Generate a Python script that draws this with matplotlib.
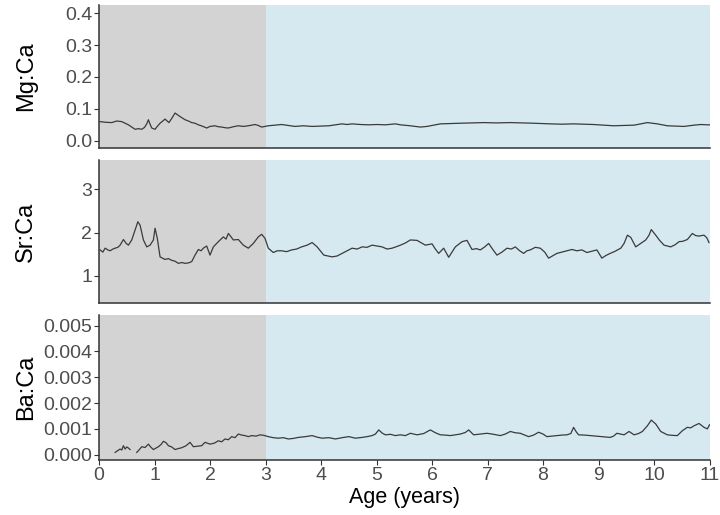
import numpy as np
import matplotlib
matplotlib.use("Agg")
import matplotlib.pyplot as plt

plt.rcParams['font.family'] = ['Liberation Sans', 'DejaVu Sans']

# ---- data ----
zone_edges = [0, 3, 11]
zone_colors = ['#d3d3d3', '#d6e9f0']

mg_age = [0.02, 0.12, 0.23, 0.32, 0.41, 0.47, 0.53, 0.59, 0.65, 0.71, 0.77, 0.82, 0.86, 0.89, 0.92, 0.95,
          1.01, 1.05, 1.10, 1.15, 1.19, 1.26, 1.31, 1.37, 1.41, 1.46, 1.55, 1.61, 1.67, 1.73, 1.79, 1.86,
          1.94, 2.00, 2.09, 2.15, 2.21, 2.27, 2.33, 2.42, 2.51, 2.60, 2.69, 2.75, 2.81, 2.87, 2.93, 3.05,
          3.17, 3.29, 3.41, 3.53, 3.68, 3.84, 3.99, 4.14, 4.26, 4.38, 4.47, 4.56, 4.71, 4.86, 5.01, 5.16,
          5.34, 5.43, 5.61, 5.79, 5.91, 6.03, 6.15, 6.33, 6.51, 6.72, 6.93, 7.17, 7.41, 7.62, 7.83, 7.98,
          8.13, 8.34, 8.55, 8.73, 8.91, 9.09, 9.27, 9.45, 9.64, 9.76, 9.88, 9.97, 10.06, 10.15, 10.24,
          10.39, 10.54, 10.63, 10.72, 10.84, 10.96, 11.0]
mg_val = [0.060, 0.058, 0.057, 0.062, 0.060, 0.055, 0.050, 0.043, 0.036, 0.038, 0.036, 0.042, 0.053, 0.066, 0.052, 0.040,
          0.036, 0.045, 0.055, 0.062, 0.068, 0.057, 0.070, 0.087, 0.082, 0.076, 0.066, 0.062, 0.057, 0.055, 0.050, 0.046,
          0.040, 0.045, 0.047, 0.044, 0.043, 0.041, 0.040, 0.044, 0.047, 0.045, 0.047, 0.049, 0.051, 0.048, 0.043, 0.047,
          0.049, 0.051, 0.048, 0.045, 0.047, 0.045, 0.046, 0.047, 0.050, 0.053, 0.051, 0.053, 0.051, 0.050, 0.051, 0.050,
          0.053, 0.050, 0.047, 0.043, 0.045, 0.049, 0.053, 0.054, 0.055, 0.056, 0.057, 0.056, 0.057, 0.056, 0.055, 0.054,
          0.053, 0.052, 0.053, 0.052, 0.051, 0.049, 0.047, 0.048, 0.049, 0.053, 0.057, 0.055, 0.053, 0.050, 0.047,
          0.046, 0.045, 0.047, 0.049, 0.051, 0.050, 0.050]

sr_age = [0.02, 0.07, 0.11, 0.16, 0.20, 0.25, 0.29, 0.34, 0.38, 0.44, 0.49, 0.53, 0.59, 0.65, 0.70, 0.74,
          0.80, 0.86, 0.92, 0.98, 1.01, 1.05, 1.10, 1.19, 1.25, 1.31, 1.37, 1.43, 1.49, 1.55, 1.61, 1.67,
          1.73, 1.79, 1.84, 1.88, 1.94, 2.00, 2.06, 2.15, 2.24, 2.29, 2.33, 2.38, 2.42, 2.51, 2.60, 2.69,
          2.78, 2.87, 2.93, 2.99, 3.05, 3.14, 3.21, 3.29, 3.38, 3.47, 3.56, 3.65, 3.75, 3.84, 3.93, 4.05,
          4.20, 4.29, 4.38, 4.47, 4.56, 4.65, 4.74, 4.83, 4.92, 5.01, 5.10, 5.19, 5.28, 5.37, 5.43, 5.52,
          5.61, 5.73, 5.81, 5.88, 6.00, 6.06, 6.12, 6.21, 6.30, 6.42, 6.54, 6.63, 6.72, 6.80, 6.87, 6.95,
          7.02, 7.10, 7.17, 7.26, 7.35, 7.43, 7.50, 7.58, 7.65, 7.71, 7.77, 7.86, 7.95, 8.03, 8.10, 8.18,
          8.25, 8.34, 8.43, 8.52, 8.61, 8.70, 8.79, 8.88, 8.97, 9.06, 9.13, 9.21, 9.30, 9.40, 9.46, 9.52,
          9.58, 9.67, 9.76, 9.85, 9.91, 9.95, 10.03, 10.10, 10.18, 10.30, 10.38, 10.45, 10.52, 10.60, 10.69,
          10.75, 10.81, 10.90, 10.95, 10.99]
sr_val = [1.60, 1.55, 1.64, 1.60, 1.58, 1.62, 1.64, 1.66, 1.71, 1.84, 1.75, 1.71, 1.83, 2.06, 2.25, 2.17,
          1.83, 1.67, 1.71, 1.83, 2.10, 1.87, 1.44, 1.38, 1.40, 1.36, 1.34, 1.29, 1.31, 1.29, 1.30, 1.33,
          1.48, 1.61, 1.58, 1.64, 1.69, 1.48, 1.67, 1.79, 1.90, 1.85, 1.98, 1.90, 1.83, 1.84, 1.71, 1.64,
          1.75, 1.90, 1.96, 1.87, 1.64, 1.54, 1.58, 1.58, 1.56, 1.60, 1.62, 1.67, 1.71, 1.77, 1.67, 1.48,
          1.44, 1.46, 1.52, 1.58, 1.64, 1.62, 1.67, 1.66, 1.71, 1.69, 1.67, 1.62, 1.64, 1.68, 1.71, 1.76,
          1.83, 1.82, 1.76, 1.71, 1.74, 1.62, 1.52, 1.64, 1.43, 1.67, 1.79, 1.82, 1.61, 1.63, 1.60, 1.67,
          1.75, 1.60, 1.48, 1.55, 1.64, 1.62, 1.67, 1.58, 1.52, 1.58, 1.60, 1.66, 1.64, 1.55, 1.41, 1.47,
          1.52, 1.55, 1.58, 1.61, 1.58, 1.60, 1.54, 1.57, 1.60, 1.41, 1.47, 1.52, 1.57, 1.64, 1.75, 1.94,
          1.89, 1.67, 1.75, 1.83, 1.94, 2.07, 1.94, 1.82, 1.71, 1.67, 1.72, 1.79, 1.80, 1.84, 1.98,
          1.93, 1.92, 1.94, 1.88, 1.77]

ba_age = [0.29, 0.33, 0.38, 0.41, 0.44, 0.47, 0.50, 0.53, 0.56, 0.62, 0.68, 0.72, 0.77, 0.83, 0.89, 0.93,
          0.98, 1.03, 1.07, 1.12, 1.16, 1.21, 1.25, 1.31, 1.37, 1.43, 1.49, 1.57, 1.64, 1.70, 1.78, 1.85,
          1.91, 2.00, 2.08, 2.15, 2.21, 2.27, 2.33, 2.39, 2.45, 2.51, 2.57, 2.63, 2.69, 2.75, 2.83, 2.90,
          2.97, 3.05, 3.14, 3.23, 3.32, 3.41, 3.50, 3.59, 3.72, 3.84, 3.93, 4.02, 4.14, 4.26, 4.38, 4.50,
          4.62, 4.74, 4.83, 4.92, 4.98, 5.04, 5.10, 5.16, 5.25, 5.34, 5.43, 5.52, 5.61, 5.67, 5.73, 5.85,
          5.97, 6.06, 6.15, 6.24, 6.33, 6.42, 6.51, 6.60, 6.66, 6.75, 6.87, 6.99, 7.11, 7.23, 7.32, 7.41,
          7.50, 7.59, 7.67, 7.74, 7.83, 7.92, 8.00, 8.07, 8.16, 8.25, 8.34, 8.43, 8.50, 8.55, 8.60, 8.64,
          8.75, 8.85, 8.94, 9.03, 9.12, 9.21, 9.27, 9.33, 9.40, 9.46, 9.55, 9.64, 9.72, 9.79, 9.88, 9.95,
          10.03, 10.12, 10.24, 10.33, 10.42, 10.51, 10.60, 10.66, 10.72, 10.81, 10.90, 10.96, 11.00]
ba_val = [0.00009, 0.00015, 0.00022, 0.00018, 0.00035, 0.00022, 0.00030, 0.00026, 0.00020, np.nan, 0.00009, 0.00018, 0.00031, 0.00028, 0.00041, 0.00030,
          0.00020, 0.00026, 0.00031, 0.00040, 0.00052, 0.00046, 0.00035, 0.00030, 0.00020, 0.00024, 0.00027, 0.00035, 0.00048, 0.00031, 0.00033, 0.00035,
          0.00048, 0.00041, 0.00045, 0.00054, 0.00050, 0.00061, 0.00058, 0.00070, 0.00066, 0.00080, 0.00076, 0.00074, 0.00070, 0.00074, 0.00072, 0.00077,
          0.00075, 0.00070, 0.00066, 0.00064, 0.00066, 0.00061, 0.00063, 0.00067, 0.00070, 0.00074, 0.00068, 0.00064, 0.00066, 0.00061, 0.00066, 0.00070,
          0.00064, 0.00067, 0.00070, 0.00074, 0.00080, 0.00096, 0.00084, 0.00077, 0.00079, 0.00074, 0.00077, 0.00074, 0.00083, 0.00080, 0.00077, 0.00082,
          0.00096, 0.00085, 0.00077, 0.00076, 0.00074, 0.00077, 0.00080, 0.00086, 0.00096, 0.00077, 0.00080, 0.00083, 0.00079, 0.00074, 0.00080, 0.00090,
          0.00085, 0.00083, 0.00076, 0.00070, 0.00076, 0.00087, 0.00080, 0.00070, 0.00072, 0.00074, 0.00076, 0.00077, 0.00082, 0.00106, 0.00088, 0.00077,
          0.00076, 0.00074, 0.00072, 0.00070, 0.00069, 0.00067, 0.00072, 0.00083, 0.00080, 0.00077, 0.00090, 0.00077, 0.00082, 0.00090, 0.00112, 0.00134,
          0.00119, 0.00090, 0.00077, 0.00075, 0.00074, 0.00093, 0.00106, 0.00104, 0.00112, 0.00121, 0.00106, 0.00100, 0.00116]

panels = [
    ("Mg:Ca", mg_age, mg_val, (-0.022, 0.425), [0.0, 0.1, 0.2, 0.3, 0.4], ["0.0", "0.1", "0.2", "0.3", "0.4"]),
    ("Sr:Ca", sr_age, sr_val, (0.38, 3.67), [1, 2, 3], ["1", "2", "3"]),
    ("Ba:Ca", ba_age, ba_val, (-0.0002, 0.0054), [0.000, 0.001, 0.002, 0.003, 0.004, 0.005],
     ["0.000", "0.001", "0.002", "0.003", "0.004", "0.005"]),
]
x_ticks = [0, 1, 2, 3, 4, 5, 6, 7, 8, 9, 10, 11]

# ---- figure ----
fig = plt.figure(figsize=(7.2, 5.15), dpi=100)
left, width = 0.1375, 0.848
boxes = [(0.713, 0.277), (0.412, 0.277), (0.107, 0.281)]

for i, ((lab, xs, ys, ylim, yt, ytl), (b, h)) in enumerate(zip(panels, boxes)):
    ax = fig.add_axes([left, b, width, h])
    for j in range(len(zone_colors)):
        ax.axvspan(zone_edges[j], zone_edges[j + 1], color=zone_colors[j], lw=0, zorder=0)
    ax.plot(xs, ys, color='#3a3a3a', lw=0.9, zorder=2)
    ax.set_xlim(0, 11)
    ax.set_ylim(*ylim)
    ax.set_yticks(yt)
    ax.set_yticklabels(ytl)
    for s in ['top', 'right']:
        ax.spines[s].set_visible(False)
    for s in ['left', 'bottom']:
        ax.spines[s].set_color('#333333')
        ax.spines[s].set_linewidth(1.1)
    ax.tick_params(axis='y', length=3.5, width=0.8, color='#333333', labelcolor='#4d4d4d',
                   labelsize=14, pad=1.5)
    ax.set_xticks(x_ticks)
    if i < 2:
        ax.tick_params(axis='x', length=0, labelbottom=False)
    else:
        ax.tick_params(axis='x', length=3.5, width=0.8, color='#333333', labelcolor='#4d4d4d',
                       labelsize=14, pad=1.5)
        ax.set_xlabel("Age (years)", fontsize=15.5, color='black', labelpad=2)
    ax.set_ylabel(lab, fontsize=17, color='black')
    ax.yaxis.set_label_coords(-0.102, 0.5)

fig.savefig("out.png", dpi=100)
